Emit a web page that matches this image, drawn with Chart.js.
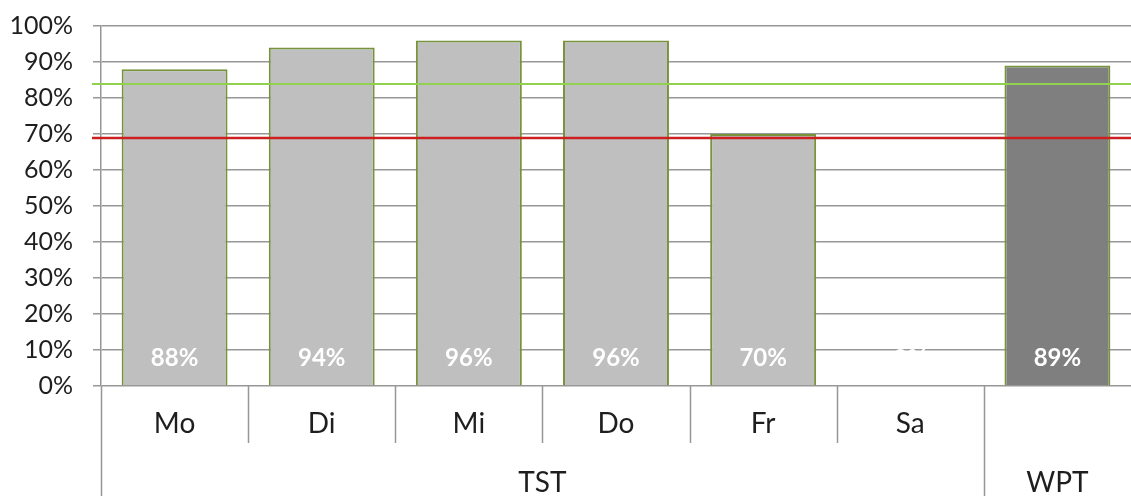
<!DOCTYPE html>
<html>
<head>
<meta charset="utf-8">
<script src="https://cdn.jsdelivr.net/npm/chart.js@4/dist/chart.umd.min.js"></script>
<style>
  html, body { margin: 0; padding: 0; background: #ffffff; }
  #wrap { width: 1131px; height: 496px; position: relative; }
</style>
</head>
<body>
<div id="wrap"><canvas id="chart"></canvas></div>
<script>
// Daily quota per weekday (TST) and the weekly value (WPT)
const categories = ['Mo', 'Di', 'Mi', 'Do', 'Fr', 'Sa', ''];
const values = [88, 94, 96, 96, 70, 0, 89];
const groupLabels = ['TST', 'WPT'];
const groupSpans = [6, 1];
const targetLevel = 84;   // green reference line
const minimumLevel = 69;  // red reference line
const yTicks = [0, 10, 20, 30, 40, 50, 60, 70, 80, 90, 100];

const FONT = 'Lato, "Open Sans", sans-serif';
const TEXT = '#1e1e1e';
const GRID = '#979797';
const barFill = ['#bfbfbf', '#bfbfbf', '#bfbfbf', '#bfbfbf', '#bfbfbf', '#bfbfbf', '#7f7f7f'];

const overlay = {
  id: 'overlay',
  afterDatasetsDraw(chart) {
    const { ctx, chartArea: area, scales: { x, y } } = chart;
    ctx.save();

    // reference lines
    const refs = [[targetLevel, '#92d050', 2], [minimumLevel, '#cc2020', 2.5]];
    refs.forEach(([v, c, w]) => {
      const py = Math.round(y.getPixelForValue(v));
      ctx.strokeStyle = c;
      ctx.lineWidth = w;
      ctx.beginPath();
      ctx.moveTo(area.left - 9, py);
      ctx.lineTo(area.right, py);
      ctx.stroke();
    });

    // value labels inside the bar bases
    ctx.fillStyle = '#ffffff';
    ctx.font = 'bold 24px ' + FONT;
    ctx.textAlign = 'center';
    ctx.textBaseline = 'middle';
    chart.getDatasetMeta(0).data.forEach((bar, i) => {
      ctx.fillText(values[i] + '%', bar.x, bar.base - 27);
    });

    // two-level category axis
    const step = x.getPixelForValue(1) - x.getPixelForValue(0);
    const edge = i => x.getPixelForValue(i) - step / 2;
    const row1Bottom = area.bottom + 57;
    const bottom = chart.height;
    const groupEdges = new Set([0]);
    let acc = 0;
    groupSpans.forEach(s => { acc += s; groupEdges.add(acc); });

    ctx.strokeStyle = GRID;
    ctx.lineWidth = 1.5;
    for (let i = 0; i < categories.length; i++) {
      const px = Math.round(edge(i)) + 0.5;
      ctx.beginPath();
      ctx.moveTo(px, area.bottom);
      ctx.lineTo(px, groupEdges.has(i) ? bottom : row1Bottom);
      ctx.stroke();
    }

    ctx.fillStyle = TEXT;
    ctx.font = '28px ' + FONT;
    categories.forEach((c, i) => {
      ctx.fillText(c, x.getPixelForValue(i), area.bottom + 38);
    });
    let start = 0;
    groupLabels.forEach((g, k) => {
      const mid = (edge(start) + edge(start + groupSpans[k])) / 2;
      ctx.fillText(g, mid, area.bottom + 97);
      start += groupSpans[k];
    });

    ctx.restore();
  }
};

new Chart(document.getElementById('chart'), {
  type: 'bar',
  data: {
    labels: categories,
    datasets: [{
      data: values,
      backgroundColor: barFill,
      borderColor: '#77933c',
      borderWidth: 2,
      borderSkipped: 'bottom',
      categoryPercentage: 1,
      barPercentage: 0.72
    }]
  },
  options: {
    responsive: true,
    maintainAspectRatio: false,
    animation: false,
    layout: { padding: { top: 26, right: 0, left: 0, bottom: 0 } },
    plugins: { legend: { display: false }, tooltip: { enabled: false } },
    scales: {
      x: {
        grid: { display: false },
        border: { display: false },
        ticks: { display: false },
        afterFit: s => { s.height = 110; s.paddingLeft = 0; s.paddingRight = 0; }
      },
      y: {
        min: 0,
        max: 100,
        afterFit: s => { s.width = 101; s.paddingTop = 0; s.paddingBottom = 0; },
        afterBuildTicks: s => { s.ticks = yTicks.map(v => ({ value: v })); },
        grid: { color: GRID, lineWidth: 1.5, tickLength: 8, drawTicks: true },
        border: { display: true, color: GRID, width: 1.5 },
        ticks: {
          padding: 20,
          color: TEXT,
          font: { family: FONT, size: 25 },
          callback: v => v + '%'
        }
      }
    }
  },
  plugins: [overlay]
});
</script>
</body>
</html>
